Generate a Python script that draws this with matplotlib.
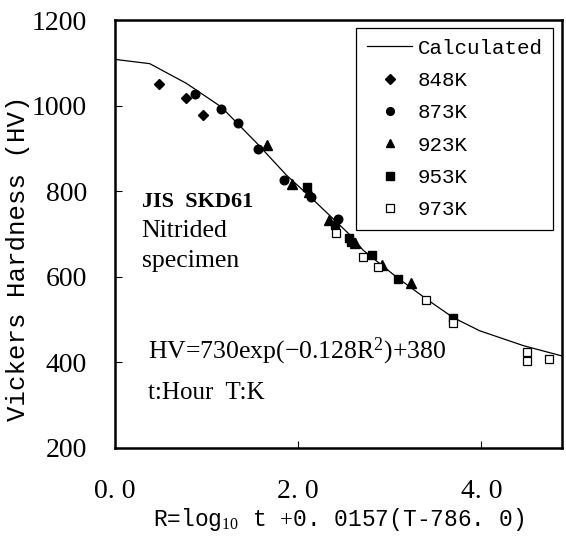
import matplotlib
matplotlib.use("Agg")
import matplotlib.pyplot as plt

plt.rcParams['font.family'] = ['Liberation Serif', 'DejaVu Serif']
plt.rcParams['mathtext.fontset'] = 'custom'
plt.rcParams['mathtext.rm'] = 'Liberation Serif'
plt.rcParams['mathtext.it'] = 'Liberation Serif:italic'
mono = ['Liberation Mono', 'DejaVu Sans Mono']

# calculated curve
calc_r = [0.0, 0.38, 0.78, 1.16, 1.55, 1.87, 2.17, 2.57, 2.71, 3.07, 3.40, 3.69, 3.98, 4.46, 4.88]
calc_hv = [1108, 1098, 1052, 997, 912, 838, 779, 697, 662, 600, 548, 505, 474, 439, 415]

# measured points per temperature
r_848 = [0.48, 0.775, 0.96]
hv_848 = [1050, 1018, 978]
r_873 = [0.87, 1.16, 1.34, 1.56, 1.85, 2.14, 2.44]
hv_873 = [1026, 991, 959, 898, 825, 787, 735]
r_923 = [1.66, 1.93, 2.12, 2.34, 2.62, 2.92, 3.23]
hv_923 = [908, 817, 799, 733, 680, 628, 586]
r_953 = [2.10, 2.40, 2.55, 2.58, 2.81, 3.09, 3.69]
hv_953 = [810, 721, 690, 682, 651, 594, 503]
r_973 = [2.41, 2.71, 2.87, 3.40, 3.69, 4.50, 4.50, 4.74]
hv_973 = [702, 647, 622, 546, 491, 425, 403, 408]

xticks = [0.0, 2.0, 4.0]
xtick_labels = ["0. 0", "2. 0", "4. 0"]
yticks = [200, 400, 600, 800, 1000, 1200]

fig = plt.figure(figsize=(5.66, 5.48), dpi=100)
ax = fig.add_axes([0.203, 0.1825, 0.79, 0.781])

ax.plot(calc_r, calc_hv, color='black', lw=0.9, label='Calculated')
ax.plot(r_848, hv_848, 'D', color='black', ms=5.3, ls='none', label='848K')
ax.plot(r_873, hv_873, 'o', color='black', ms=6.2, ls='none', label='873K')
ax.plot(r_923, hv_923, '^', color='black', ms=6.5, ls='none', label='923K')
ax.plot(r_953, hv_953, 's', color='black', ms=6, ls='none', label='953K')
ax.plot(r_973, hv_973, 's', mfc='white', mec='black', mew=0.9, ms=6, ls='none', label='973K')

ax.set_xlim(0, 4.88)
ax.set_ylim(200, 1200)
ax.set_xticks(xticks)
ax.set_xticklabels(xtick_labels)
ax.set_yticks(yticks)
ax.tick_params(direction='in', length=5, width=0.8, labelsize=20)
ax.tick_params(axis='y', pad=20)
ax.tick_params(axis='x', pad=22)
for s in ax.spines.values():
    s.set_linewidth(1.8)

ax.set_xlabel(r"R=log$_{10}$ t $+$0. 0157(T-786. 0)", fontsize=16.5, family=mono,
              labelpad=2)
fig.text(0.032, 0.529, "Vickers Hardness (HV)", rotation=90, fontsize=18.5,
         family=mono, ha='center', va='center')

leg = ax.legend(loc='upper right', bbox_to_anchor=(0.98, 0.981), borderaxespad=0,
                prop={'family': mono, 'size': 15},
                frameon=True, fancybox=False, edgecolor='black', framealpha=1,
                handlelength=2.2, handletextpad=0.25, labelspacing=0.64,
                borderpad=0.5, markerscale=0.9)
leg.get_frame().set_linewidth(0.9)

ax.text(0.06, 0.575, "JIS  SKD61", transform=ax.transAxes, fontsize=16,
        fontweight='bold', va='center')
ax.text(0.06, 0.507, "Nitrided", transform=ax.transAxes, fontsize=18.5, va='center')
ax.text(0.06, 0.437, "specimen", transform=ax.transAxes, fontsize=18.5, va='center')
ax.text(0.075, 0.225, r"HV=730exp(−0.128R$^{2}$)+380", transform=ax.transAxes,
        fontsize=18.5, va='center')
ax.text(0.075, 0.128, "t:Hour  T:K", transform=ax.transAxes, fontsize=18, va='center')

fig.savefig("out.png", dpi=100)
